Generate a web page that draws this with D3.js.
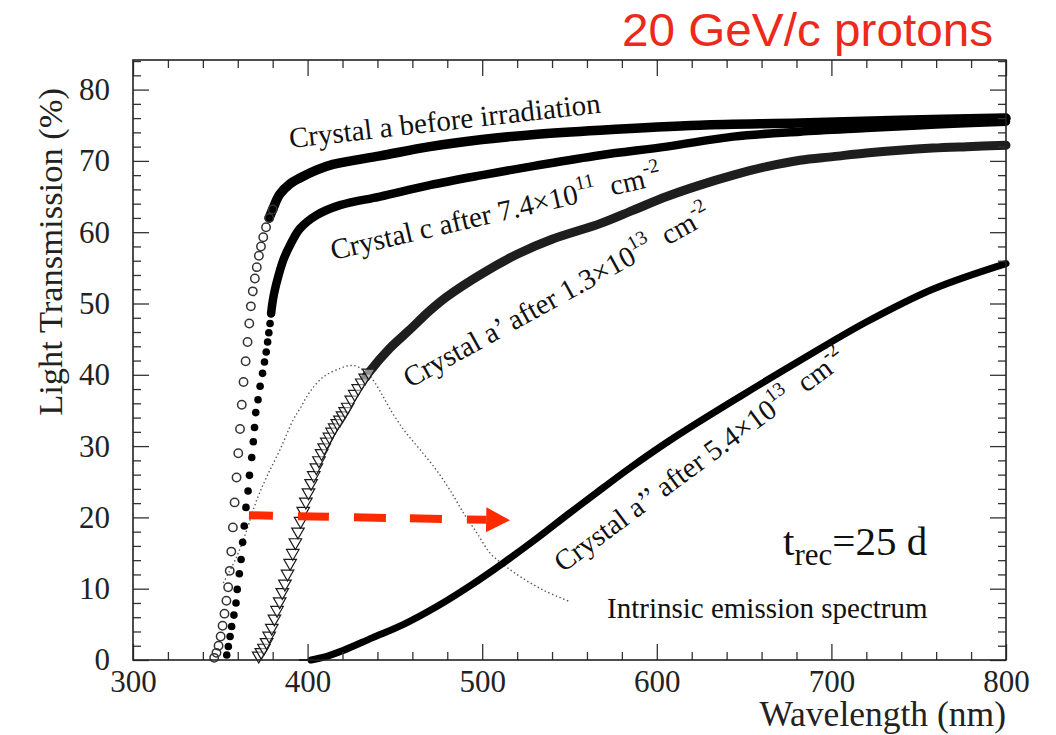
<!DOCTYPE html>
<html><head><meta charset="utf-8">
<script src="https://cdn.jsdelivr.net/npm/d3@7"></script>
<style>
body{margin:0;background:#fff}
svg text{font-family:"Liberation Serif","Times New Roman",serif;fill:#111}
</style>
</head><body>
<svg id="c" width="1056" height="735"></svg>
<script>
// ---- data ----
const xTicks = [300, 400, 500, 600, 700, 800];
const yTicks = [0, 10, 20, 30, 40, 50, 60, 70, 80];

// Crystal a before irradiation: individual open circles on the steep edge
const crystalA_markers = [[346.5,0.3],[347.8,1.0],[349,2.0],[350.2,3.3],[351.3,4.8],[352.4,6.5],[353.5,8.3],[354.5,10.2],[355.4,12.5],[356.3,15.2],[357.2,18.6],[358.2,22.1],[359.3,25.6],[360.3,29.0],[361.3,32.4],[362.3,35.8],[363.3,39.0],[364.5,41.9],[365.6,44.6],[366.6,47.2],[367.5,49.6],[368.6,51.7],[369.8,53.5],[370.9,55.1],[372.1,56.7],[373.3,58.0],[374.6,59.3],[376.2,60.7],[378,62.0],[380,63.2]];
// dense part (markers merge into a band)
const crystalA_band = [[378,62.0],[380,63.2],[384,65.3],[390,66.8],[395.6,67.6],[405,68.7],[414.5,69.5],[441.5,70.7],[470,72.0],[500,73.0],[530,73.7],[567.5,74.3],[624.7,75.0],[682,75.3],[739,75.7],[800,76.0]];

// Crystal c after 7.4e11: filled circles
const crystalC_markers = [[353.7,0.7],[354.6,1.9],[355.6,3.3],[356.5,4.7],[357.8,6.3],[359,8.0],[359.7,9.9],[360.9,12.1],[361.9,14.1],[362.8,16.5],[363.7,18.8],[364.7,21.4],[365.9,23.7],[366.7,25.9],[368,28.4],[368.9,30.6],[369.6,32.6],[370.3,34.7],[371.6,36.5],[372.8,38.4],[374.2,40.2],[375.3,41.8],[376.3,43.2],[377.1,44.6],[377.8,45.9],[378.5,47.2],[379.1,48.6],[379.7,49.8]];
const crystalC_band = [[379.1,48.6],[379.7,49.8],[380.8,51.4],[383.2,53.8],[386.1,56.1],[390,58.2],[395.6,60.5],[405.2,62.4],[418.6,63.8],[441.5,65.0],[470,66.6],[500,68.0],[530,69.3],[567.5,70.8],[605.7,72.0],[643.8,73.4],[682,74.1],[720,74.6],[760,75.1],[800,75.5]];

// Crystal a' after 1.3e13: open triangles
const crystalAp_markers = [[372,0.6],[373.5,1.1],[375,1.7],[376.5,2.5],[378,3.4],[379.5,4.5],[381,5.8],[382.5,7.0],[384,8.2],[385.5,9.5],[387,10.7],[388.5,12.1],[390,13.6],[391.5,15.0],[393,16.5],[394.5,18.0],[396,19.5],[397.5,20.9],[399,22.2],[400.5,23.5],[402,24.8],[403.5,25.9],[405,27.0],[406.5,28.0],[408,29.0],[409.5,29.8],[411,30.6],[412.5,31.3],[414,32.0],[415.5,32.6],[417,33.2],[418.5,33.7],[420,34.3],[421.5,34.9],[423,35.5],[425,36.5],[427,37.3],[429,38.1],[431,38.9],[433,39.6],[435,40.3]];
const crystalAp_band = [[433,39.6],[435,40.3],[447,43.7],[458,46.2],[470,49.0],[480,51.0],[500,54.2],[520,56.9],[540,59.0],[567.5,61.2],[586.6,63.1],[605.7,65.0],[624.7,66.6],[643.8,68.0],[662.9,69.2],[682,70.1],[701,70.6],[720,71.1],[739,71.5],[758,71.8],[777.5,72.0],[800,72.2]];

// Crystal a'' after 5.4e13: solid band
const crystalApp_band = [[402,0],[411,0.5],[420,1.3],[437,3.1],[455,5.0],[474,7.5],[493,10.4],[512,13.6],[531,17.0],[550,20.6],[569,24.1],[585,27.0],[610,31.2],[648,37.0],[682,42.0],[720,47.4],[758,52.0],[800,55.6]];

// Intrinsic emission spectrum (dotted)
const emission = [[351.7,10.8],[359.4,14.5],[365.1,18.2],[370.8,22.4],[376.6,25.7],[384.2,29.5],[391.8,33.7],[396,35.4],[401,37.5],[409,39.7],[418.6,40.9],[424,41.3],[428,41.2],[432,40.6],[437,39.4],[442,37.5],[447,35.3],[455,32.3],[464.4,29.5],[473.9,26.6],[481.6,23.8],[489.3,20.6],[497,17.8],[504.5,15.0],[512,13.4],[521.7,11.7],[535,9.8],[550,8.2]];

// red arrow annotation (wavelength, %)
const arrowFrom = [366.4, 20.3];
const arrowTo = [516, 19.6];

// ---- chart ----
const svg = d3.select("#c");
const L = 133, R = 1006, T = 60, B = 660;
const x = d3.scaleLinear().domain([300, 800]).range([L, R]);
const y = d3.scaleLinear().domain([0, 84.15]).range([B, T]);

// title
svg.append("text").attr("x", 622).attr("y", 46)
  .style("font-family", "'Liberation Sans', Arial, sans-serif")
  .style("font-size", "46px").style("fill", "#ec2a1b")
  .attr("textLength", 371).attr("lengthAdjust", "spacingAndGlyphs")
  .text("20 GeV/c protons");

const line = d3.line().x(d => x(d[0])).y(d => y(d[1])).curve(d3.curveCatmullRom.alpha(0.5));

// emission spectrum
svg.append("path").datum(emission).attr("d", line)
  .attr("fill", "none").attr("stroke", "#555").attr("stroke-width", 1.4)
  .attr("stroke-dasharray", "1.4,2.6");

// a'' band
svg.append("path").datum(crystalApp_band).attr("d", line)
  .attr("fill", "none").attr("stroke", "#000").attr("stroke-width", 7).attr("stroke-linecap", "round");
svg.append("line").attr("x1", x(395)).attr("x2", x(402)).attr("y1", y(0)).attr("y2", y(0))
  .attr("stroke", "#000").attr("stroke-width", 2);

// a' band + triangles
svg.append("path").datum(crystalAp_band).attr("d", line)
  .attr("fill", "none").attr("stroke", "#1e1e1e").attr("stroke-width", 9).attr("stroke-linecap", "round");
svg.selectAll(".tri").data(crystalAp_markers).join("path")
  .attr("d", d3.symbol(d3.symbolTriangle, 68)())
  .attr("transform", d => `translate(${x(d[0])},${y(d[1])}) rotate(180)`)
  .attr("fill", "#fff").attr("fill-opacity", 0.5).attr("stroke", "#1a1a1a").attr("stroke-width", 1.2);

// c band + filled circles
svg.append("path").datum(crystalC_band).attr("d", line)
  .attr("fill", "none").attr("stroke", "#000").attr("stroke-width", 8.5).attr("stroke-linecap", "round");
svg.selectAll(".fc").data(crystalC_markers).join("circle")
  .attr("cx", d => x(d[0])).attr("cy", d => y(d[1])).attr("r", 3.8).attr("fill", "#000");

// a band + open circles
svg.append("path").datum(crystalA_band).attr("d", line)
  .attr("fill", "none").attr("stroke", "#000").attr("stroke-width", 9.5).attr("stroke-linecap", "round");
svg.selectAll(".oc").data(crystalA_markers).join("circle")
  .attr("cx", d => x(d[0])).attr("cy", d => y(d[1])).attr("r", 4.2)
  .attr("fill", "#fff").attr("fill-opacity", 0).attr("stroke", "#333").attr("stroke-width", 1.5);

// red dashed arrow
const ax0 = x(arrowFrom[0]), ay0 = y(arrowFrom[1]), ax1 = x(arrowTo[0]), ay1 = y(arrowTo[1]);
const headLen = 24, headHalf = 12.5;
const ang = Math.atan2(ay1 - ay0, ax1 - ax0);
const bx = ax1 - headLen * Math.cos(ang), by = ay1 - headLen * Math.sin(ang);
svg.append("line").attr("x1", ax0).attr("y1", ay0).attr("x2", bx).attr("y2", by)
  .attr("stroke", "#ff2a00").attr("stroke-width", 8)
  .attr("stroke-dasharray", "24,25,31,25,32,24,32,25,40");
svg.append("path")
  .attr("d", `M${ax1},${ay1} L${bx + headHalf * Math.sin(ang)},${by - headHalf * Math.cos(ang)} L${bx - headHalf * Math.sin(ang)},${by + headHalf * Math.cos(ang)} Z`)
  .attr("fill", "#ff2a00");

// axes (ticks inward on all four sides)
const axStyle = g => { g.select(".domain").remove(); g.selectAll("line").attr("stroke", "#333").attr("stroke-width", 1.3); };
const xMinor = d3.range(300, 801, 20).filter(v => v % 100 !== 0);
const yMinor = d3.range(0, 84.1, 2).filter(v => v % 10 !== 0);

const gb = svg.append("g").attr("transform", `translate(0,${B})`)
  .call(d3.axisBottom(x).tickValues(xTicks).tickSize(-16).tickPadding(10).tickFormat(d3.format("d")));
gb.call(axStyle);
gb.selectAll("text").style("font-size", "31px").style("fill", "#222");
svg.append("g").attr("transform", `translate(0,${B})`)
  .call(d3.axisBottom(x).tickValues(xMinor).tickSize(-8).tickFormat("")).call(axStyle);
svg.append("g").attr("transform", `translate(0,${T})`)
  .call(d3.axisTop(x).tickValues(xTicks).tickSize(-16).tickFormat("")).call(axStyle);
svg.append("g").attr("transform", `translate(0,${T})`)
  .call(d3.axisTop(x).tickValues(xMinor).tickSize(-8).tickFormat("")).call(axStyle);

const gl = svg.append("g").attr("transform", `translate(${L},0)`)
  .call(d3.axisLeft(y).tickValues(yTicks).tickSize(-16).tickPadding(23).tickFormat(d3.format("d")));
gl.call(axStyle);
gl.selectAll("text").style("font-size", "31px").style("fill", "#222");
svg.append("g").attr("transform", `translate(${L},0)`)
  .call(d3.axisLeft(y).tickValues(yMinor).tickSize(-8).tickFormat("")).call(axStyle);
svg.append("g").attr("transform", `translate(${R},0)`)
  .call(d3.axisRight(y).tickValues(yTicks).tickSize(-16).tickFormat("")).call(axStyle);
svg.append("g").attr("transform", `translate(${R},0)`)
  .call(d3.axisRight(y).tickValues(yMinor).tickSize(-8).tickFormat("")).call(axStyle);

// frame
svg.append("rect").attr("x", L).attr("y", T).attr("width", R - L).attr("height", B - T)
  .attr("fill", "none").attr("stroke", "#222").attr("stroke-width", 1.6);

// axis titles
svg.append("text").attr("x", R).attr("y", 726).attr("text-anchor", "end")
  .style("font-size", "35.5px").style("fill", "#222").text("Wavelength (nm)");
svg.append("text").attr("transform", `translate(62,88) rotate(-90)`).attr("text-anchor", "end")
  .style("font-size", "34.5px").style("fill", "#222").text("Light Transmission (%)");

// curve labels
function label(px, py, rot, parts, size) {
  const t = svg.append("text").attr("transform", `translate(${px},${py}) rotate(${rot})`)
    .style("font-size", size + "px");
  parts.forEach(p => {
    const s = t.append("tspan").text(p.t);
    if (p.sup) s.style("font-size", (size * 0.68) + "px").attr("dy", -size * 0.45);
    if (p.back) s.attr("dy", size * 0.45);
  });
  return t;
}
const fs = 29;
label(x(390), y(71.8), -6.5, [{t: "Crystal a before irradiation"}], fs);
label(x(414.5), y(56.1), -13, [{t: "Crystal c after 7.4×10"}, {t: "11", sup: 1}, {t: "\u00a0 cm", back: 1}, {t: "-2", sup: 1}], fs);
label(x(458.6), y(38.1), -29, [{t: "Crystal a’ after 1.3×10"}, {t: "13", sup: 1}, {t: "\u00a0 cm", back: 1}, {t: "-2", sup: 1}], fs);
label(x(546.3), y(12.2), -36.5, [{t: "Crystal a’’ after 5.4×10"}, {t: "13", sup: 1}, {t: "\u00a0 cm", back: 1}, {t: "-2", sup: 1}], fs);
svg.append("text").attr("x", x(571.5)).attr("y", y(5.9)).style("font-size", fs + "px").text("Intrinsic emission spectrum");

// t_rec annotation
const tr = svg.append("text").attr("x", x(672.3)).attr("y", y(14.7)).style("font-size", "41px");
tr.append("tspan").text("t");
tr.append("tspan").text("rec").style("font-size", "31px").attr("dy", 10);
tr.append("tspan").text("=25 d").attr("dy", -10);
</script>
</body></html>
